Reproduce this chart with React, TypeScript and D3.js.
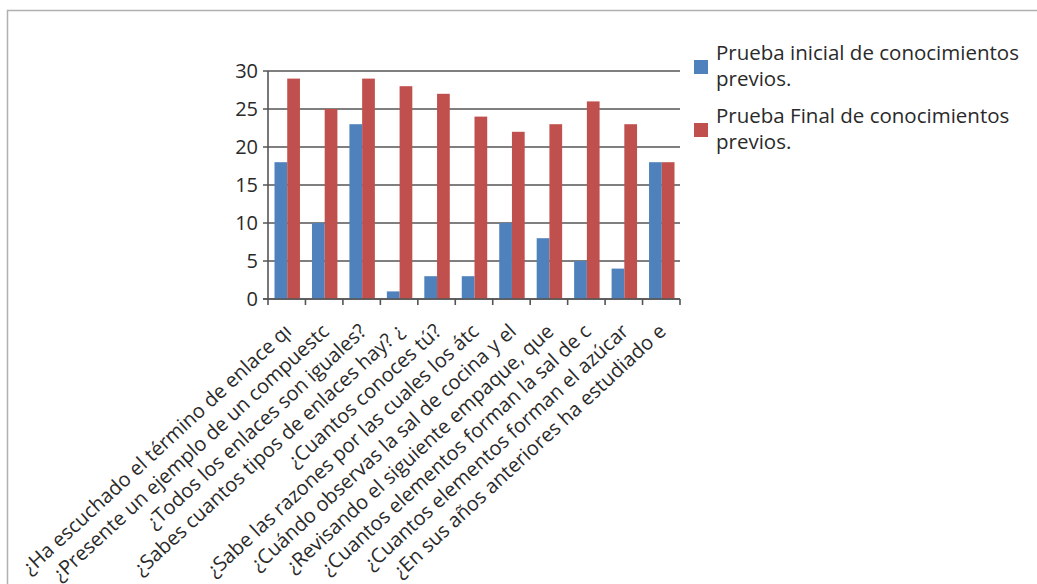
import React from "react";
import * as d3 from "d3";

const categories = [
  "¿Ha escuchado el término de enlace qı",
  "¿Presente un ejemplo de un compuestc",
  "¿Todos los enlaces son iguales?",
  "¿Sabes cuantos tipos de enlaces hay? ¿",
  "¿Cuantos conoces tú?",
  "¿Sabe las razones por las cuales los átc",
  "¿Cuándo observas la sal de cocina y el",
  "¿Revisando el siguiente empaque, que",
  "¿Cuantos elementos forman la sal de c",
  "¿Cuantos elementos forman el azúcar",
  "¿En sus años anteriores ha estudiado e",
];

const inicial = [18, 10, 23, 1, 3, 3, 10, 8, 5, 4, 18];
const final = [29, 25, 29, 28, 27, 24, 22, 23, 26, 23, 18];

const seriesNames = [
  ["Prueba inicial de conocimientos", "previos."],
  ["Prueba Final de conocimientos", "previos."],
];
const yTicks = [0, 5, 10, 15, 20, 25, 30];

const W = 1037;
const H = 584;
const FONT = "'Open Sans', 'Noto Sans', sans-serif";
const colors = ["#4F81BD", "#C0504D"];
const gridColor = "#555555";
const textColor = "#2a2a2a";

export default function App() {
  const x = d3.scaleBand<number>().domain(d3.range(categories.length)).range([268, 680]).padding(0);
  const bw = x.bandwidth();
  const sub = d3.scaleBand<number>().domain([0, 1]).range([6.5, bw - 5.5]).padding(0);
  const y = d3.scaleLinear().domain([0, 30]).range([299, 71]);
  const series = [inicial, final];

  return (
    <div style={{ position: "fixed", left: 0, top: 0 }}>
      <svg width={W} height={H} style={{ display: "block", background: "#fff" }} fontFamily={FONT}>
        <rect x={7.5} y={10.5} width={1200} height={800} fill="#fff" stroke="#b0b0b0" strokeWidth={1.5} />

        {/* horizontal gridlines and value ticks */}
        {yTicks.map((t) => (
          <g key={t}>
            <line x1={263} x2={680} y1={y(t)} y2={y(t)} stroke={gridColor} strokeWidth={1.6} />
            <text x={258} y={y(t)} dy="0.36em" textAnchor="end" fontSize={20} fill={textColor}>
              {t}
            </text>
          </g>
        ))}

        {/* bars */}
        {series.map((vals, s) =>
          vals.map((v, i) => (
            <rect
              key={`${s}-${i}`}
              x={(x(i) as number) + (sub(s) as number)}
              width={sub.bandwidth()}
              y={y(v)}
              height={y(0) - y(v)}
              fill={colors[s]}
            />
          ))
        )}

        {/* axes */}
        <line x1={268} x2={268} y1={y(30)} y2={y(0)} stroke={gridColor} strokeWidth={1.6} />
        <line x1={263} x2={680} y1={y(0)} y2={y(0)} stroke={gridColor} strokeWidth={1.6} />
        {d3.range(categories.length + 1).map((i) => (
          <line key={i} x1={268 + i * bw} x2={268 + i * bw} y1={y(0)} y2={y(0) + 6} stroke={gridColor} strokeWidth={1.6} />
        ))}

        {/* category labels */}
        {categories.map((c, i) => {
          const cx = (x(i) as number) + bw / 2 + 6;
          const cy = y(0) + 34;
          return (
            <text
              key={i}
              transform={`translate(${cx},${cy}) rotate(-42.7)`}
              textAnchor="end"
              fontSize={20}
              fill={textColor}
            >
              {c}
            </text>
          );
        })}

        {/* legend */}
        {seriesNames.map((lines, s) => {
          const top = 60 + s * 63;
          return (
            <g key={s}>
              <rect x={694} y={top} width={14} height={14} fill={colors[s]} />
              {lines.map((l, k) => (
                <text key={k} x={716} y={top + k * 26} fontSize={20.5} fill={textColor}>
                  {l}
                </text>
              ))}
            </g>
          );
        })}
      </svg>
    </div>
  );
}
